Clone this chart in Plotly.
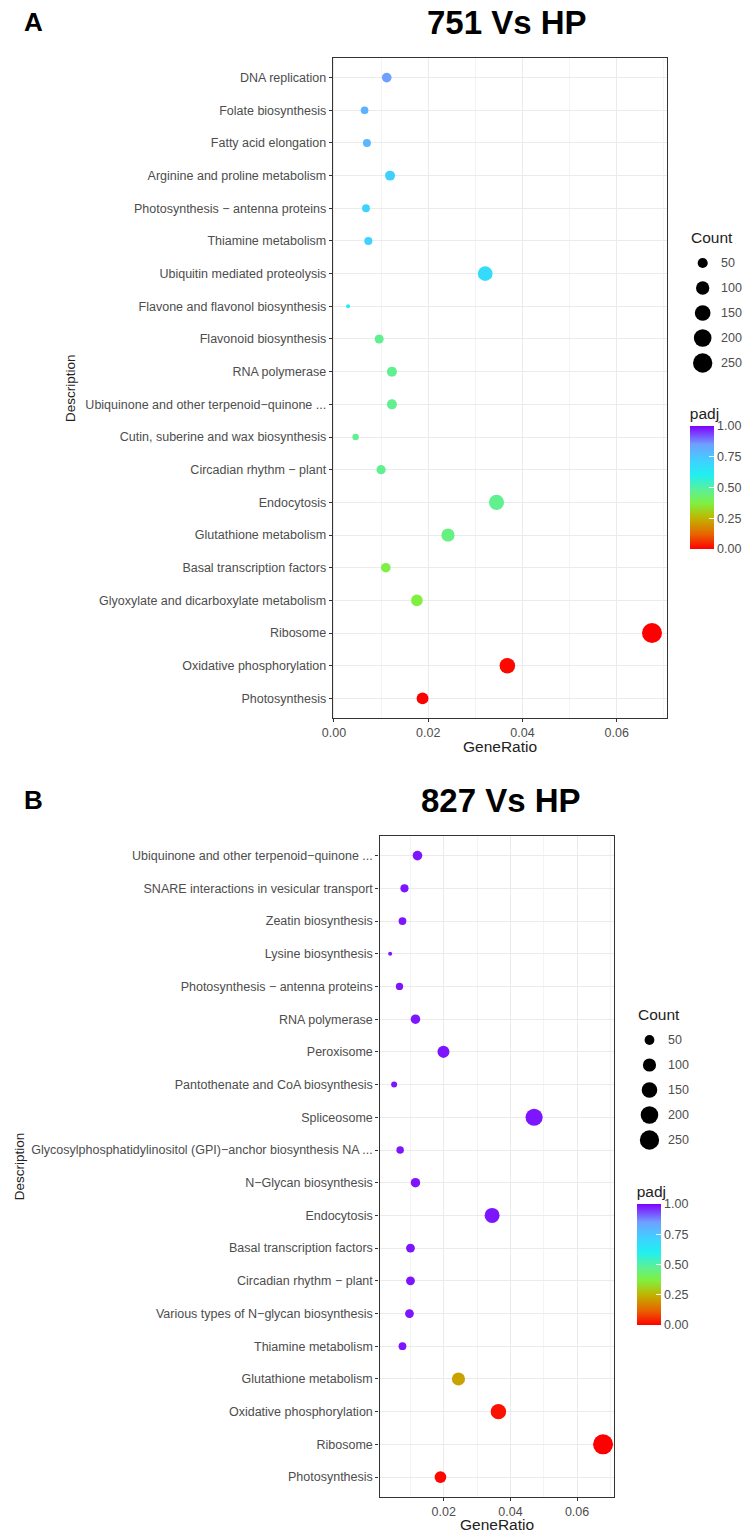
import numpy as np
import plotly.graph_objects as go

W, H = 748, 1533

# ---------------- data: panel A (751 Vs HP), listed top to bottom ----------------
terms_a = [
    "DNA replication", "Folate biosynthesis", "Fatty acid elongation",
    "Arginine and proline metabolism", "Photosynthesis − antenna proteins",
    "Thiamine metabolism", "Ubiquitin mediated proteolysis",
    "Flavone and flavonol biosynthesis", "Flavonoid biosynthesis", "RNA polymerase",
    "Ubiquinone and other terpenoid−quinone ...", "Cutin, suberine and wax biosynthesis",
    "Circadian rhythm − plant", "Endocytosis", "Glutathione metabolism",
    "Basal transcription factors", "Glyoxylate and dicarboxylate metabolism",
    "Ribosome", "Oxidative phosphorylation", "Photosynthesis",
]
ratio_a = [0.0112, 0.0065, 0.0070, 0.0119, 0.0068, 0.0073, 0.0321, 0.0030, 0.0096, 0.0123,
           0.0123, 0.0046, 0.0100, 0.0345, 0.0242, 0.0110, 0.0176, 0.0675, 0.0368, 0.0188]
count_a = [45, 26, 28, 48, 27, 29, 128, 12, 38, 49,
           49, 18, 40, 138, 97, 44, 70, 270, 147, 75]
padj_a = [0.85, 0.80, 0.79, 0.72, 0.71, 0.71, 0.68, 0.62, 0.47, 0.47,
          0.47, 0.47, 0.47, 0.47, 0.45, 0.38, 0.37, 0.00, 0.01, 0.00]

# ---------------- data: panel B (827 Vs HP), listed top to bottom ----------------
terms_b = [
    "Ubiquinone and other terpenoid−quinone ...", "SNARE interactions in vesicular transport",
    "Zeatin biosynthesis", "Lysine biosynthesis", "Photosynthesis − antenna proteins",
    "RNA polymerase", "Peroxisome", "Pantothenate and CoA biosynthesis", "Spliceosome",
    "Glycosylphosphatidylinositol (GPI)−anchor biosynthesis NA ...", "N−Glycan biosynthesis",
    "Endocytosis", "Basal transcription factors", "Circadian rhythm − plant",
    "Various types of N−glycan biosynthesis", "Thiamine metabolism",
    "Glutathione metabolism", "Oxidative phosphorylation", "Ribosome", "Photosynthesis",
]
ratio_b = [0.0121, 0.0082, 0.0076, 0.0039, 0.0067, 0.0115, 0.0199, 0.0051, 0.0471, 0.0069,
           0.0115, 0.0345, 0.0100, 0.0100, 0.0097, 0.0076, 0.0244, 0.0364, 0.0678, 0.0190]
count_b = [48, 33, 30, 16, 27, 46, 80, 20, 188, 28,
           46, 138, 40, 40, 39, 30, 98, 146, 271, 76]
padj_b = [0.98, 0.98, 0.98, 0.98, 0.98, 0.98, 0.98, 0.98, 0.98, 0.98,
          0.98, 0.98, 0.98, 0.98, 0.98, 0.98, 0.22, 0.02, 0.00, 0.01]

count_breaks = [50, 100, 150, 200, 250]
padj_ticks = [0.0, 0.25, 0.5, 0.75, 1.0]

# ---------------- styling ----------------
FONT = "Liberation Sans"
TXT = 12.5          # tick / legend label size
TTL = 15.5          # axis / legend title size
DMIN, DMAX = 4.0, 20.0
COLORSCALE = [
    [0.00, "#FF0000"], [0.12, "#E86400"], [0.25, "#C0B400"], [0.37, "#80F040"],
    [0.47, "#60F090"], [0.60, "#20F0F0"], [0.72, "#40D0FF"], [0.85, "#6FA0FF"],
    [1.00, "#8000FF"],
]


def px_x(v):
    return min(max(v / W, 0.0), 1.0)


def px_y(v):
    return min(max(1 - v / H, 0.0), 1.0)


def size_scale(counts):
    """ggplot-like area scale: diameter grows with sqrt of rescaled count."""
    lo, hi = min(counts), max(counts)

    def f(v):
        t = np.clip((np.asarray(v, dtype=float) - lo) / (hi - lo), 0, 1)
        return DMIN + (DMAX - DMIN) * np.sqrt(t)
    return f


def expanded(vals, mult=0.05):
    lo, hi = min(vals), max(vals)
    pad = (hi - lo) * mult
    return [lo - pad, hi + pad]


fig = go.Figure()

panels = [
    dict(name="A", title="751 Vs HP", terms=terms_a, ratio=ratio_a, count=count_a, padj=padj_a,
         xa="x", ya="y", box=(326.7, 58, 666, 718),
         leg_xa="x3", leg_ya="y3", leg=(688, 237), cbar=(689, 404, 549),
         title_xy=(503, 22), letter_y=22, desc_x=60, gr_y=747),
    dict(name="B", title="827 Vs HP", terms=terms_b, ratio=ratio_b, count=count_b, padj=padj_b,
         xa="x2", ya="y2", box=(374, 836, 611.7, 1496.7),
         leg_xa="x4", leg_ya="y4", leg=(634, 1014), cbar=(635, 1182, 1325),
         title_xy=(497, 800), letter_y=800, desc_x=8, gr_y=1524),
]

layout_axes = {}
annotations = []

for i, p in enumerate(panels):
    sfun = size_scale(p["count"])
    x0, y0, x1, y1 = p["box"]
    cx, ctop, cbot = p["cbar"]

    fig.add_trace(go.Scatter(
        x=p["ratio"], y=p["terms"], mode="markers", xaxis=p["xa"], yaxis=p["ya"],
        showlegend=False, hoverinfo="x+y+text",
        text=[f"Count={c}, padj={q}" for c, q in zip(p["count"], p["padj"])],
        marker=dict(
            size=sfun(p["count"]), color=p["padj"], cmin=0, cmax=1,
            colorscale=COLORSCALE, line=dict(width=0), opacity=1,
            colorbar=dict(
                x=px_x(cx), xanchor="left", xpad=0,
                y=px_y(cbot), yanchor="bottom", ypad=0,
                len=(cbot - ctop) / H, lenmode="fraction", thickness=24,
                outlinewidth=0,
                title=dict(text="padj", side="top", font=dict(family=FONT, size=TTL, color="#222")),
                tickvals=padj_ticks, ticktext=[f"{t:.2f}" for t in padj_ticks],
                ticks="inside", ticklen=5, tickcolor="white", tickwidth=1,
                tickfont=dict(family=FONT, size=TXT, color="#4d4d4d"),
            ),
        ),
    ))

    # size legend ("Count") drawn on its own pixel-scaled axes
    lx, ly = p["leg"]
    lx0, lx1 = lx - 10, min(lx + 58, W)
    leg_y = [ly + 26 + 25 * k for k in range(len(count_breaks))]
    fig.add_trace(go.Scatter(
        x=[lx + 14] * len(count_breaks), y=leg_y, mode="markers",
        xaxis=p["leg_xa"], yaxis=p["leg_ya"], showlegend=False, hoverinfo="skip",
        marker=dict(size=sfun(count_breaks), color="#000000", opacity=1, line=dict(width=0)),
    ))
    for k, b in enumerate(count_breaks):
        annotations.append(dict(
            x=lx + 31, y=leg_y[k], xref=p["leg_xa"], yref=p["leg_ya"], text=str(b),
            showarrow=False, xanchor="left", yanchor="middle",
            font=dict(family=FONT, size=TXT, color="#4d4d4d")))
    annotations.append(dict(
        x=lx, y=ly, xref=p["leg_xa"], yref=p["leg_ya"], text="Count", showarrow=False,
        xanchor="left", yanchor="middle", font=dict(family=FONT, size=TTL, color="#222")))

    sx = "" if i == 0 else str(i + 1)
    lsx = str(i + 3)
    layout_axes["xaxis" + sx] = dict(
        domain=[px_x(x0), px_x(x1)], anchor=p["ya"], range=expanded(p["ratio"]),
        tick0=0, dtick=0.02, tickformat=".2f", ticks="outside", ticklen=3, tickcolor="#333",
        tickfont=dict(family=FONT, size=TXT, color="#4d4d4d"),
        showgrid=True, gridcolor="#ebebeb", gridwidth=1.1,
        minor=dict(dtick=0.01, tick0=0, showgrid=True, gridcolor="#f4f4f4", gridwidth=0.6),
        showline=True, linecolor="#333", linewidth=1.4, mirror=True, zeroline=False,
    )
    layout_axes["yaxis" + sx] = dict(
        domain=[px_y(y1), px_y(y0)], anchor=p["xa"], type="category",
        categoryorder="array", categoryarray=p["terms"][::-1], range=[-0.6, 19.6],
        ticks="outside", ticklen=3, tickcolor="#333",
        tickfont=dict(family=FONT, size=TXT, color="#4d4d4d"),
        showgrid=True, gridcolor="#ebebeb", gridwidth=1.1,
        showline=True, linecolor="#333", linewidth=1.4, mirror=True, zeroline=False,
    )
    ly0, ly1 = ly - 20, ly + 26 + 25 * 4 + 20
    layout_axes["xaxis" + lsx] = dict(
        domain=[px_x(lx0), px_x(lx1)], range=[lx0, lx1],
        visible=False, anchor=p["leg_ya"], fixedrange=True)
    layout_axes["yaxis" + lsx] = dict(
        domain=[px_y(ly1), px_y(ly0)], range=[ly1, ly0],
        visible=False, anchor=p["leg_xa"], fixedrange=True)

    tx, ty = p["title_xy"]
    annotations += [
        dict(x=px_x(tx), y=px_y(ty), xref="paper", yref="paper", text=f"<b>{p['title']}</b>",
             showarrow=False, xanchor="center", yanchor="middle",
             font=dict(family=FONT, size=33, color="black")),
        dict(x=px_x(11), y=px_y(p["letter_y"]), xref="paper", yref="paper",
             text=f"<b>{p['name']}</b>", showarrow=False, xanchor="left", yanchor="middle",
             font=dict(family=FONT, size=26, color="black")),
        dict(x=px_x(p["desc_x"]), y=px_y((y0 + y1) / 2), xref="paper", yref="paper",
             text="Description", textangle=-90, showarrow=False, xanchor="center",
             yanchor="middle", font=dict(family=FONT, size=13.5, color="#222")),
        dict(x=px_x((x0 + x1) / 2), y=px_y(p["gr_y"]), xref="paper", yref="paper",
             text="GeneRatio", showarrow=False, xanchor="center", yanchor="middle",
             font=dict(family=FONT, size=TTL, color="#222")),
    ]

fig.update_layout(
    width=W, height=H, margin=dict(l=0, r=0, t=0, b=0),
    paper_bgcolor="white", plot_bgcolor="white",
    font=dict(family=FONT), annotations=annotations, **layout_axes,
)

fig.write_html("out.html")
